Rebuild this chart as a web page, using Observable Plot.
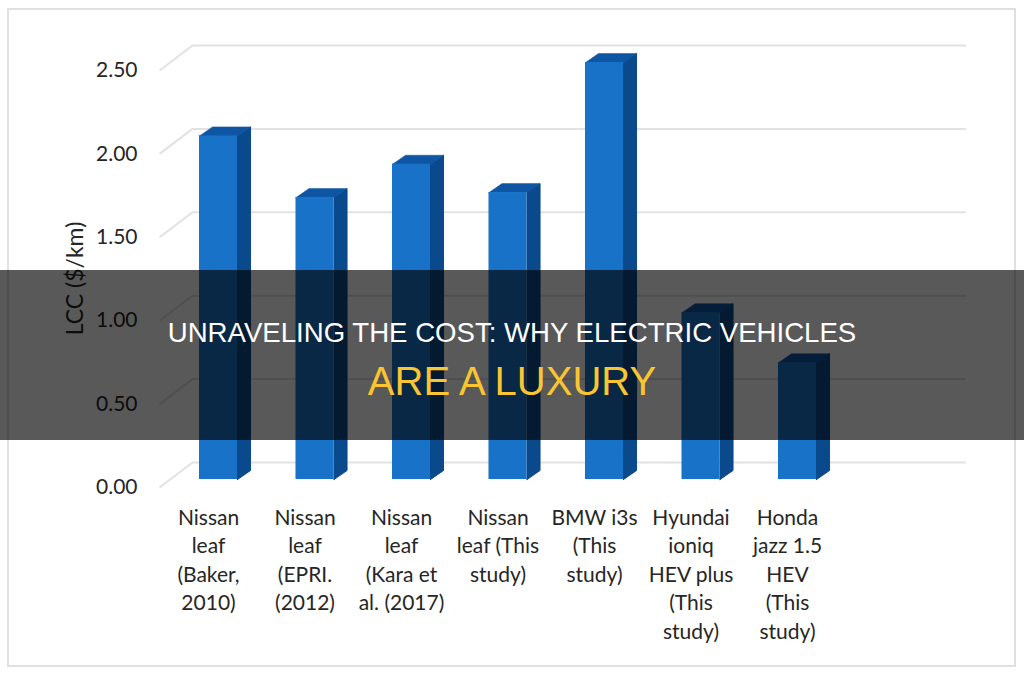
<!DOCTYPE html>
<html><head><meta charset="utf-8">
<script src="https://cdn.jsdelivr.net/npm/d3@7"></script>
<script src="https://cdn.jsdelivr.net/npm/@observablehq/plot@0.6"></script>
<style>
html,body{margin:0;padding:0;background:#fff}
#wrap{position:relative;width:1024px;height:676px;overflow:hidden}
#frame{position:absolute;left:7px;top:8px;width:1005px;height:655px;border:2px solid #e0e0e0;pointer-events:none}
#band{position:absolute;left:0;top:270px;width:1024px;height:170px;background:rgba(0,0,0,.65);text-align:center;font-family:"Liberation Sans",sans-serif;color:#fff;box-sizing:border-box}
#band span{display:block;position:absolute;left:0;width:100%;white-space:nowrap}
#band .w{font-size:27.6px;line-height:48px;top:39px}
#band .y{color:#f9c531;font-size:40px;line-height:48px;top:87px}
</style></head><body>
<div id="wrap"><div id="chart"></div><div id="frame"></div>
<div id="band"><span class="w">UNRAVELING THE COST: WHY ELECTRIC VEHICLES</span><span class="y">ARE A LUXURY</span></div></div>
<script>
const categories = ["Nissan\nleaf\n(Baker,\n2010)","Nissan\nleaf\n(EPRI.\n(2012)","Nissan\nleaf\n(Kara et\nal. (2017)","Nissan\nleaf (This\nstudy)","BMW i3s\n(This\nstudy)","Hyundai\nioniq\nHEV plus\n(This\nstudy)","Honda\njazz 1.5\nHEV\n(This\nstudy)"];
const lcc = [2.06,1.69,1.89,1.72,2.50,1.00,0.70];
const ticks = [0,0.5,1,1.5,2,2.5];

const W = 0.197, DX = 0.135, DY = 0.054;
const table = lcc.map((v,i)=>({i,v,label:categories[i]}));
const side = table.flatMap(d=>[[d.i+W,0],[d.i+W+DX,DY],[d.i+W+DX,d.v+DY],[d.i+W,d.v],[d.i+W,0]].map(([x,y])=>({x,y,k:d.i})));
const top_ = table.flatMap(d=>[[d.i-W,d.v],[d.i-W+DX,d.v+DY],[d.i+W+DX,d.v+DY],[d.i+W,d.v],[d.i-W,d.v]].map(([x,y])=>({x,y,k:d.i})));
const GB = 0.102, GF = -0.048, GL = -0.611, GM = -0.269, GR = 7.75;

const chart = Plot.plot({
  width:1024,height:676,margin:0,
  x:{domain:[0,6],range:[218,797],axis:null},
  y:{domain:[0,2.5],range:[479,62],axis:null},
  style:{fontFamily:"Lato,sans-serif",background:"transparent"},
  marks:[
    Plot.ruleY(ticks,{y:d=>d+GB,x1:GM,x2:GR,stroke:"#e2e2e2",strokeWidth:2}),
    Plot.link(ticks,{x1:GL,y1:d=>d+GF,x2:GM,y2:d=>d+GB,stroke:"#e2e2e2",strokeWidth:2}),
    Plot.line(side,{x:"x",y:"y",z:"k",fill:"#0a4a8c",stroke:"#0a4a8c",strokeWidth:1}),
    Plot.line(top_,{x:"x",y:"y",z:"k",fill:"#0e55a3",stroke:"#0e55a3",strokeWidth:0.5}),
    Plot.rect(table,{x1:d=>d.i-W,x2:d=>d.i+W,y1:0,y2:"v",fill:"#1872c8"}),
    Plot.text(ticks,{x:GL,y:d=>d+GF,text:d=>d.toFixed(2),textAnchor:"end",dx:-22,dy:0,fontSize:21,fill:"#262626"}),
    Plot.text(table,{x:"i",y:0,text:"label",dx:-10,dy:25,lineAnchor:"top",lineHeight:1.36,fontSize:21,fill:"#262626"}),
    Plot.text(["LCC ($/km)"],{frameAnchor:"top-left",dx:66,dy:278,rotate:-90,textAnchor:"middle",fontSize:23,fill:"#262626"})
  ]
});
document.getElementById("chart").appendChild(chart);
</script></body></html>
